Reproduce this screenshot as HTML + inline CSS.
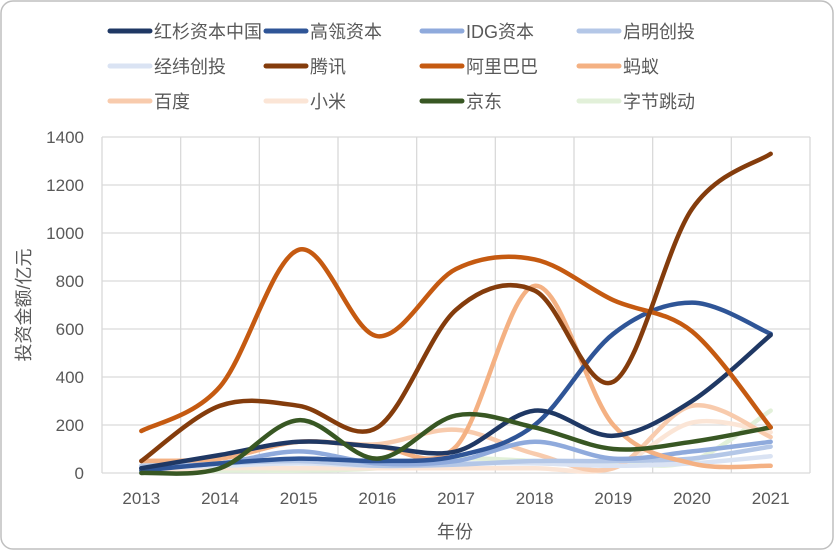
<!DOCTYPE html><html><head><meta charset="utf-8"><style>
html,body{margin:0;padding:0;background:#fff;}
svg{display:block;font-family:"Liberation Sans","Noto Sans CJK SC",sans-serif;}
</style></head><body>
<svg id="c" width="834" height="550" viewBox="0 0 834 550">
<rect x="1" y="1" width="832" height="548" rx="12" fill="#fff" stroke="#bfbfbf" stroke-width="1.5"/>
<g id="grid" stroke="#d9d9d9" stroke-width="1.3"></g>
<g id="lines" fill="none" stroke-linecap="round" stroke-width="4.5"></g>
<g id="legend" font-size="18" fill="#595959"></g>
<g font-size="17" fill="#595959" id="ax"></g>
<text x="455" y="538" font-size="18" fill="#595959" text-anchor="middle">年份</text>
<text transform="translate(30,305) rotate(-90)" font-size="18" fill="#595959" text-anchor="middle">投资金额/亿元</text>
</svg>
<script>
const NS="http://www.w3.org/2000/svg";
function el(p,t,a,txt){const e=document.createElementNS(NS,t);for(const k in a)e.setAttribute(k,a[k]);if(txt!==undefined)e.textContent=txt;p.appendChild(e);return e;}
const g=document.getElementById('grid'),ax=document.getElementById('ax');
const X0=102,X1=810,Y0=473,sy=48/200,step=(X1-X0)/9;
for(let v=0;v<=1400;v+=200){const y=Y0-v*sy;el(g,'line',{x1:X0,x2:X1,y1:y,y2:y});el(ax,'text',{x:84,y:y+6,'text-anchor':'end'},v);}
for(let i=0;i<=9;i++){const x=X0+i*step;el(g,'line',{x1:x,x2:x,y1:137,y2:Y0});}
for(let i=0;i<9;i++){el(ax,'text',{x:X0+step*(i+0.5),y:504,'text-anchor':'middle'},2013+i);}
const S=[
["红杉资本中国","#1f3864",[20,75,130,110,90,260,155,300,575]],
["高瓴资本","#2f5597",[10,40,60,50,70,200,580,710,580]],
["IDG资本","#8faadc",[20,40,90,40,50,130,60,90,130]],
["启明创投","#b4c7e7",[30,40,50,30,35,50,50,60,110]],
["经纬创投","#dae3f3",[20,30,40,30,40,40,30,40,70]],
["腾讯","#843c0c",[50,280,280,190,680,760,380,1100,1330]],
["阿里巴巴","#c55a11",[175,360,930,570,850,890,720,590,190]],
["蚂蚁","#f4b183",[50,60,130,110,110,780,200,40,30]],
["百度","#f8cbad",[50,60,130,120,180,80,20,280,150]],
["小米","#fbe5d6",[10,20,20,20,20,20,20,210,170]],
["京东","#385723",[0,20,220,60,240,190,100,130,190]],
["字节跳动","#e2f0d9",[0,10,10,20,60,50,40,50,260]]];
const L=document.getElementById('lines'),lg=document.getElementById('legend');
const order=[11,9,8,4,3,2,7,1,0,10,6,5];
order.forEach(k=>{const s=S[k];const p=s[2].map((v,i)=>[X0+step*(i+0.5),Y0-v*sy]);
let d='M'+p[0];for(let i=0;i<p.length-1;i++){const a=p[Math.max(i-1,0)],b=p[i],c=p[i+1],e=p[Math.min(i+2,p.length-1)];const t=1/6;
d+=' C'+[b[0]+(c[0]-a[0])*t,b[1]+(c[1]-a[1])*t]+' '+[c[0]-(e[0]-b[0])*t,c[1]-(e[1]-b[1])*t]+' '+c;}
el(L,'path',{d:d,stroke:s[1]});});
const cx=[110,266,422,579];
S.forEach((s,i)=>{const x=cx[i%4],y=31+(i>>2)*35;el(lg,'line',{x1:x,x2:x+40,y1:y,y2:y,stroke:s[1],'stroke-width':5,'stroke-linecap':'round'});el(lg,'text',{x:x+44,y:y+7},s[0]);});
</script>
</body></html>
